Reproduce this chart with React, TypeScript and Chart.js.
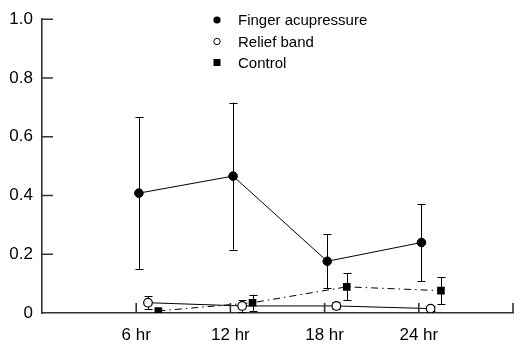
import React, { useEffect, useRef } from "react";
import { Chart, registerables } from "chart.js";

Chart.register(...registerables);

const hours = [6, 12, 18, 24];
const tickLabels = ["6 hr", "12 hr", "18 hr", "24 hr"];
const yTicks = [0, 0.2, 0.4, 0.6, 0.8, 1.0];

const fingerValues = [0.408, 0.466, 0.176, 0.24];
const fingerErrors = [0.258, 0.25, 0.092, 0.131];
const reliefValues = [0.035, 0.024, 0.024, 0.015];
const reliefErrors = [0.022, 0.02, 0.012, 0.008];
const controlValues = [0.007, 0.035, 0.089, 0.076];
const controlErrors = [0.0, 0.027, 0.046, 0.046];

const seriesNames = ["Finger acupressure", "Relief band", "Control"];
const dodge = [0.17, 0.75, 1.41];

const FONT = "'Liberation Sans', Arial, Helvetica, sans-serif";

const errorBarPlugin = {
  id: "errorBars",
  beforeDatasetsDraw(chart: any) {
    const ctx = chart.ctx;
    const xs = chart.scales.x;
    const ys = chart.scales.y;
    const errs = [fingerErrors, reliefErrors, controlErrors];
    ctx.save();
    ctx.strokeStyle = "#000";
    ctx.lineWidth = 1;
    chart.data.datasets.forEach((ds: any, i: number) => {
      ds.data.forEach((p: any, j: number) => {
        const e = errs[i][j];
        if (!e) return;
        const x = Math.round(xs.getPixelForValue(p.x)) + 0.5;
        const yt = ys.getPixelForValue(p.y + e);
        const yb = ys.getPixelForValue(Math.max(0, p.y - e));
        ctx.beginPath();
        ctx.moveTo(x, yt);
        ctx.lineTo(x, yb);
        ctx.moveTo(x - 4, Math.round(yt) + 0.5);
        ctx.lineTo(x + 4, Math.round(yt) + 0.5);
        ctx.moveTo(x - 4, Math.round(yb) + 0.5);
        ctx.lineTo(x + 4, Math.round(yb) + 0.5);
        ctx.stroke();
      });
    });
    ctx.restore();
  },
};

const innerTicksPlugin = {
  id: "innerTicks",
  afterDraw(chart: any) {
    const ctx = chart.ctx;
    const xs = chart.scales.x;
    const ys = chart.scales.y;
    const { left, bottom } = chart.chartArea;
    ctx.save();
    ctx.strokeStyle = "#333";
    ctx.lineWidth = 1.6;
    ctx.beginPath();
    yTicks.slice(1).forEach((v) => {
      const y = ys.getPixelForValue(v);
      ctx.moveTo(left, y);
      ctx.lineTo(left + 11, y);
    });
    [...hours, 30].forEach((h) => {
      const x = xs.getPixelForValue(h);
      ctx.moveTo(x, bottom);
      ctx.lineTo(x, bottom - 10);
    });
    ctx.stroke();
    ctx.restore();
  },
};

const legendPlugin = {
  id: "customLegend",
  afterDraw(chart: any) {
    const ctx = chart.ctx;
    const rows = [20, 41.5, 62.5];
    const mx = 217;
    const tx = 238;
    ctx.save();
    ctx.font = `15px ${FONT}`;
    ctx.textBaseline = "middle";
    ctx.textAlign = "left";
    ctx.fillStyle = "#000";
    ctx.strokeStyle = "#000";
    seriesNames.forEach((name, i) => {
      const y = rows[i];
      ctx.beginPath();
      if (i === 0) {
        ctx.arc(mx, y, 3.6, 0, Math.PI * 2);
        ctx.fill();
      } else if (i === 1) {
        ctx.lineWidth = 1;
        ctx.arc(mx, y, 3.2, 0, Math.PI * 2);
        ctx.stroke();
      } else {
        ctx.fillRect(mx - 3.5, y - 3.5, 7, 7);
      }
      ctx.fillText(name, tx, y + 1);
    });
    ctx.restore();
  },
};

function pts(values: number[], off: number) {
  return values.map((v, i) => ({ x: hours[i] + off, y: v }));
}

export default function App() {
  const ref = useRef<HTMLCanvasElement | null>(null);
  useEffect(() => {
    document.body.style.margin = "0";
    const canvas = ref.current!;
    const chart = new Chart(canvas, {
      type: "scatter",
      data: {
        datasets: [
          {
            label: seriesNames[0],
            data: pts(fingerValues, dodge[0]),
            showLine: true,
            borderColor: "#000",
            backgroundColor: "#000",
            borderWidth: 1,
            pointStyle: "circle",
            pointRadius: 4.3,
            pointBorderWidth: 1,
            pointBackgroundColor: "#000",
            pointBorderColor: "#000",
          },
          {
            label: seriesNames[1],
            data: pts(reliefValues, dodge[1]),
            showLine: true,
            borderColor: "#000",
            backgroundColor: "#fff",
            borderWidth: 1,
            pointStyle: "circle",
            pointRadius: 4.3,
            pointBorderWidth: 1.2,
            pointBackgroundColor: "#fff",
            pointBorderColor: "#000",
          },
          {
            label: seriesNames[2],
            data: pts(controlValues, dodge[2]),
            showLine: true,
            borderColor: "#000",
            backgroundColor: "#000",
            borderWidth: 1,
            borderDash: [7, 4, 1.5, 4],
            pointStyle: "rect",
            pointRadius: 5.4,
            pointBorderWidth: 0,
            pointBackgroundColor: "#000",
            pointBorderColor: "#000",
          },
        ],
      },
      options: {
        animation: false,
        responsive: false,
        maintainAspectRatio: false,
        layout: { padding: { top: 16, right: 7, left: 0, bottom: 0 } },
        plugins: {
          legend: { display: false },
          tooltip: { enabled: false },
        },
        scales: {
          x: {
            type: "linear",
            min: 0,
            max: 30,
            afterBuildTicks: (s: any) => {
              s.ticks = [0, ...hours, 30].map((v) => ({ value: v }));
            },
            afterFit: (s: any) => {
              s.height = 31;
            },
            ticks: {
              autoSkip: false,
              maxRotation: 0,
              padding: 12,
              color: "#000",
              font: { family: FONT, size: 17 },
              callback: (v: any) => {
                const i = hours.indexOf(Number(v));
                return i >= 0 ? tickLabels[i] : "";
              },
            },
            grid: { display: true, drawOnChartArea: false, drawTicks: false },
            border: { display: true, color: "#333", width: 1.6 },
          },
          y: {
            type: "linear",
            min: 0,
            max: 1,
            afterBuildTicks: (s: any) => {
              s.ticks = yTicks.map((v) => ({ value: v }));
            },
            afterFit: (s: any) => {
              s.width = 42;
            },
            ticks: {
              padding: 9,
              color: "#000",
              font: { family: FONT, size: 17 },
              callback: (v: any) => (Number(v) === 0 ? "0" : Number(v).toFixed(1)),
            },
            grid: { display: true, drawOnChartArea: false, drawTicks: false },
            border: { display: true, color: "#333", width: 1.6 },
          },
        },
      },
      plugins: [errorBarPlugin, innerTicksPlugin, legendPlugin],
    });
    return () => chart.destroy();
  }, []);
  return (
    <canvas
      ref={ref}
      width={525}
      height={344}
      style={{ display: "block", width: 525, height: 344 }}
    />
  );
}
